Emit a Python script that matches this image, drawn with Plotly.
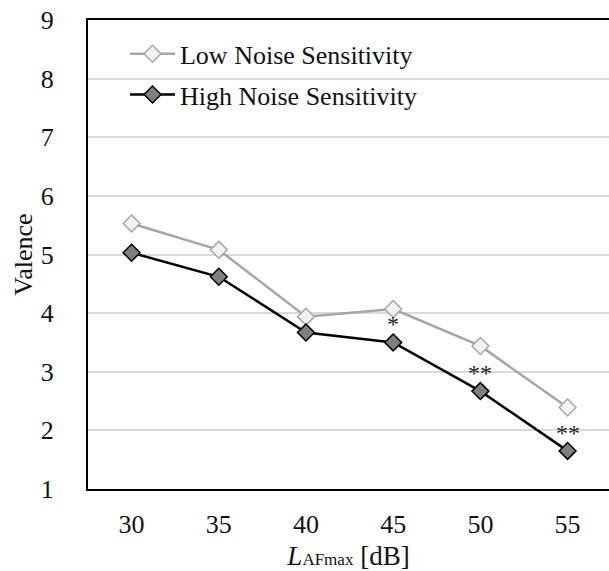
import plotly.graph_objects as go

categories = ["30", "35", "40", "45", "50", "55"]
low_values = [5.53, 5.08, 3.94, 4.07, 3.44, 2.39]
high_values = [5.03, 4.62, 3.67, 3.50, 2.67, 1.65]
significance = ["", "", "", "*", "**", "**"]
y_ticks = [1, 2, 3, 4, 5, 6, 7, 8, 9]

FONT = "Liberation Serif"

fig = go.Figure()
fig.add_trace(go.Scatter(
    x=categories, y=low_values, mode="lines+markers",
    name="Low Noise Sensitivity", legendgroup="low",
    line=dict(color="#a6a6a6", width=2.5),
    marker=dict(symbol="diamond", size=13, color="#f2f2f2",
                line=dict(color="#a6a6a6", width=1.5)),
))
fig.add_trace(go.Scatter(
    x=categories, y=high_values, mode="lines+markers",
    name="High Noise Sensitivity", legendgroup="high",
    line=dict(color="#000000", width=2.5),
    marker=dict(symbol="diamond", size=13, color="#7f7f7f",
                line=dict(color="#000000", width=1.5)),
))

for i, (v, s) in enumerate(zip(high_values, significance)):
    if s:
        fig.add_annotation(x=i, y=v, text=s, showarrow=False, yshift=18,
                           xref="x", yref="y",
                           font=dict(family=FONT, size=24, color="#222222"))

fig.update_layout(
    width=609, height=571,
    margin=dict(l=88, r=0, t=20, b=82),
    plot_bgcolor="white", paper_bgcolor="white",
    font=dict(family=FONT, size=26, color="#111111"),
    showlegend=True,
    legend=dict(x=0.071, y=0.978, xanchor="left", yanchor="top",
                bgcolor="rgba(0,0,0,0)", font=dict(size=26), itemwidth=45,
                tracegroupgap=4),
    xaxis=dict(
        type="category", range=[-0.5, 5.475],
        showline=True, linecolor="black", linewidth=2, mirror=True,
        showgrid=False, ticks="", ticklabelstandoff=11,
        tickfont=dict(size=26),
        title=dict(text="<i>L</i><span style='font-size:17px'>AFmax</span> [dB]",
                   font=dict(size=27), standoff=8),
    ),
    yaxis=dict(
        range=[1, 9], tickvals=y_ticks,
        showline=True, linecolor="black", linewidth=2,
        showgrid=True, gridcolor="#d9d9d9", gridwidth=2,
        zeroline=False, ticks="", ticklabelstandoff=27,
        tickfont=dict(size=26),
        title=dict(text="Valence", font=dict(size=26), standoff=1),
    ),
)

fig.write_html("out.html")
